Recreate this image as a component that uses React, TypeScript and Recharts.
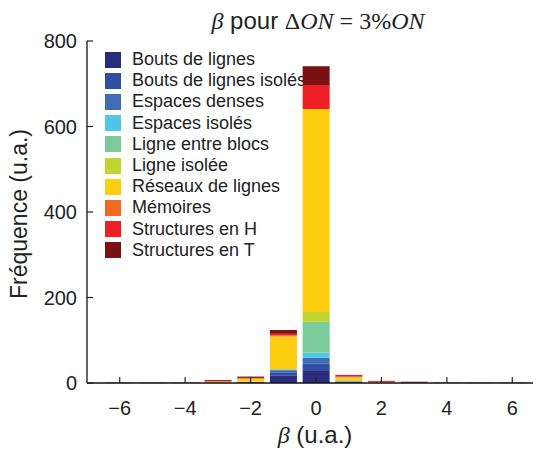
import { BarChart, Bar, XAxis, YAxis, Legend, Customized } from "recharts";

// bins of beta
const betas = [-6, -5, -4, -3, -2, -1, 0, 1, 2, 3, 4, 5, 6];

// counts per category (stacked bottom to top)
const boutsDeLignes = [0, 0, 0, 0, 2, 18, 30, 2, 0, 0, 0, 0, 0];
const boutsDeLignesIsoles = [0, 0, 0, 0, 0, 7, 16, 1, 0, 0, 0, 0, 0];
const espacesDenses = [0, 0, 0, 0, 0, 5, 13, 1, 0, 0, 0, 0, 0];
const espacesIsoles = [0, 0, 0, 0, 0, 2, 12, 0, 0, 0, 0, 0, 0];
const ligneEntreBlocs = [0, 0, 0, 0, 0, 0, 72, 1, 0, 0, 0, 0, 0];
const ligneIsolee = [0, 0, 0, 0, 1, 0, 23, 2, 1, 0, 0, 0, 0];
const reseauxDeLignes = [0, 0, 0, 3, 7, 77, 475, 6, 1, 0, 0, 0, 0];
const memoires = [0, 0, 0, 1, 1, 3, 0, 2, 0, 0, 0, 0, 0];
const structuresEnH = [0, 0, 0, 1, 1, 3, 56, 2, 2, 2, 0, 0, 0];
const structuresEnT = [1, 1, 1, 2, 3, 9, 44, 2, 1, 1, 1, 1, 1];

const seriesNames = [
  "Bouts de lignes",
  "Bouts de lignes isolés",
  "Espaces denses",
  "Espaces isolés",
  "Ligne entre blocs",
  "Ligne isolée",
  "Réseaux de lignes",
  "Mémoires",
  "Structures en H",
  "Structures en T",
];
const seriesValues = [
  boutsDeLignes,
  boutsDeLignesIsoles,
  espacesDenses,
  espacesIsoles,
  ligneEntreBlocs,
  ligneIsolee,
  reseauxDeLignes,
  memoires,
  structuresEnH,
  structuresEnT,
];
const colors = [
  "#2a2d7c",
  "#2e4fa3",
  "#3e6db5",
  "#4fc6e8",
  "#7cc99a",
  "#c1d530",
  "#fdcd10",
  "#f26a22",
  "#ee1f26",
  "#7a1214",
];

const xTicks = [-6, -4, -2, 0, 2, 4, 6];
const yTicks = [0, 200, 400, 600, 800];

const data = betas.map((b, i) => {
  const row: Record<string, number> = { beta: b };
  seriesValues.forEach((vals, k) => {
    row["s" + k] = vals[i];
  });
  return row;
});

const SANS = "'Liberation Sans', Arial, sans-serif";
const SERIF = "'Liberation Serif', 'Times New Roman', serif";

const fmt = (v: number) => (v < 0 ? "\u2212" + Math.abs(v) : String(v));

const BottomTick = ({ x, y, payload }: any) => (
  <g>
    <line x1={x} x2={x} y1={y} y2={y - 6} stroke="#222" strokeWidth={1.2} />
    <text x={x} y={y + 32} textAnchor="middle" fontSize={20} fontFamily={SANS} fill="#222">
      {fmt(payload.value)}
    </text>
  </g>
);

const TopTick = ({ x, y }: any) => (
  <line x1={x} x2={x} y1={y} y2={y + 6} stroke="#222" strokeWidth={1.2} />
);

const LeftTick = ({ x, y, payload }: any) => (
  <g>
    <line x1={x} x2={x + 6} y1={y} y2={y} stroke="#222" strokeWidth={1.2} />
    <text x={x - 10} y={y + 7} textAnchor="end" fontSize={20} fontFamily={SANS} fill="#222">
      {payload.value}
    </text>
  </g>
);

const RightTick = ({ x, y }: any) => (
  <line x1={x} x2={x - 6} y1={y} y2={y} stroke="#222" strokeWidth={1.2} />
);

const LegendBox = () => (
  <div style={{ fontFamily: SANS, fontSize: 18, color: "#222" }}>
    {seriesNames.map((name, k) => (
      <div key={name} style={{ display: "flex", alignItems: "center", height: 21.2 }}>
        <span style={{ width: 16, height: 16, background: colors[k], marginRight: 11, flexShrink: 0 }} />
        <span style={{ whiteSpace: "nowrap", lineHeight: "21.2px" }}>{name}</span>
      </div>
    ))}
  </div>
);

const Texts = () => (
  <g fill="#222">
    <text x={310} y={21} textAnchor="middle" fontSize={24}>
      <tspan fontFamily={SERIF} fontStyle="italic">β</tspan>
      <tspan fontFamily={SANS}> pour </tspan>
      <tspan fontFamily={SERIF}>Δ</tspan>
      <tspan fontFamily={SERIF} fontStyle="italic">ON</tspan>
      <tspan fontFamily={SERIF}> = 3%</tspan>
      <tspan fontFamily={SERIF} fontStyle="italic">ON</tspan>
    </text>
    <text x={307} y={435} textAnchor="middle" fontSize={24}>
      <tspan fontFamily={SERIF} fontStyle="italic">β</tspan>
      <tspan fontFamily={SANS}> (u.a.)</tspan>
    </text>
    <text
      x={19}
      y={206}
      textAnchor="middle"
      fontSize={23}
      fontFamily={SANS}
      transform="rotate(-90, 19, 206)"
    >
      Fréquence (u.a.)
    </text>
  </g>
);

export default function App() {
  return (
    <div
      style={{ width: 533, height: 444, marginLeft: -8, paddingLeft: 8, overflowX: "clip" } as any}
    >
      <style>{".recharts-surface { overflow: visible; }"}</style>
      <BarChart
        width={560}
        height={444}
        data={data}
        margin={{ top: 33, right: 23, bottom: 0, left: 0 }}
      >
        <XAxis
          dataKey="beta"
          type="number"
          domain={[-7, 7]}
          ticks={xTicks}
          allowDataOverflow
          height={69}
          tickSize={0}
          tickMargin={0}
          tick={<BottomTick />}
          axisLine={{ stroke: "#111", strokeWidth: 1.3 }}
        />
        <XAxis
          xAxisId="top"
          orientation="top"
          dataKey="beta"
          type="number"
          domain={[-7, 7]}
          ticks={xTicks}
          height={0}
          tickSize={0}
          tickMargin={0}
          tick={<TopTick />}
          axisLine={{ stroke: "#111", strokeWidth: 1.3 }}
        />
        <YAxis
          type="number"
          domain={[0, 800]}
          ticks={yTicks}
          width={79}
          tickSize={0}
          tickMargin={0}
          tick={<LeftTick />}
          axisLine={{ stroke: "#111", strokeWidth: 1.3 }}
        />
        <YAxis
          yAxisId="right"
          orientation="right"
          type="number"
          domain={[0, 800]}
          ticks={yTicks}
          width={0}
          tickSize={0}
          tickMargin={0}
          tick={<RightTick />}
          axisLine={{ stroke: "#111", strokeWidth: 1.3 }}
        />
        {seriesNames.map((name, k) => (
          <Bar
            key={name}
            dataKey={"s" + k}
            name={name}
            stackId="a"
            fill={colors[k]}
            barSize={27}
            isAnimationActive={false}
          />
        ))}
        <Legend
          layout="horizontal"
          verticalAlign="middle"
          align="center"
          content={<LegendBox />}
          wrapperStyle={{ left: 97, top: 41, width: "auto", zIndex: -1 }}
        />
        <Customized component={<Texts />} />
      </BarChart>
    </div>
  );
}
